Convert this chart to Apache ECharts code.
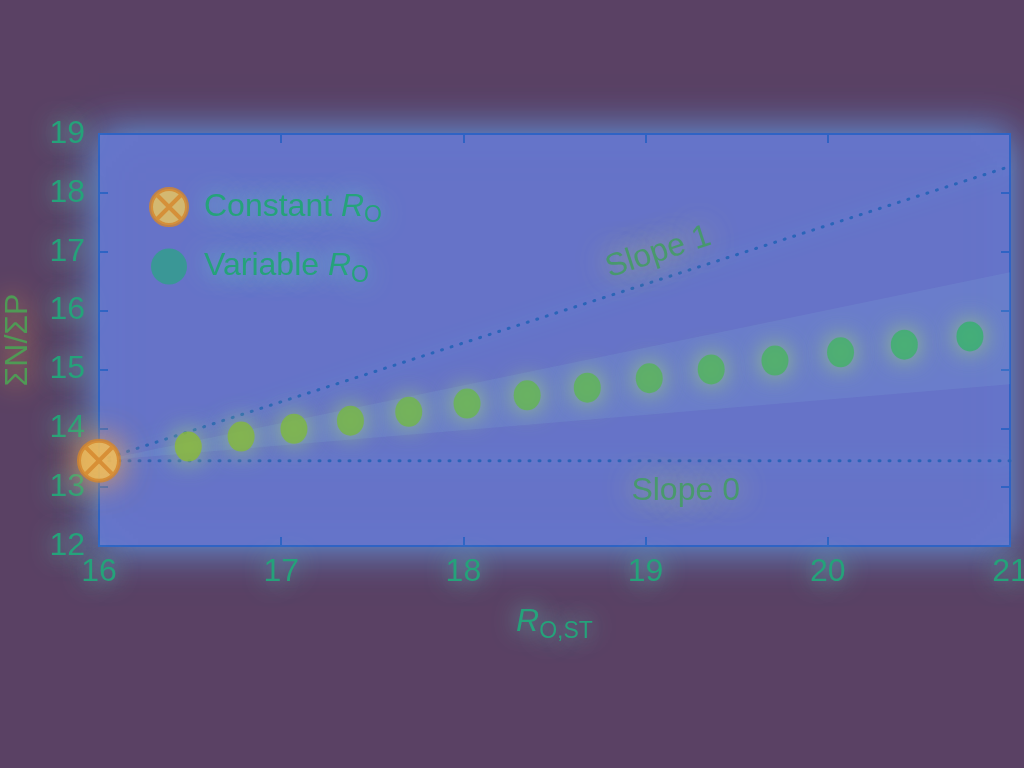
<!DOCTYPE html>
<html>
<head>
<meta charset="utf-8">
<script src="https://cdn.jsdelivr.net/npm/echarts@6/dist/echarts.min.js"></script>
<style>
html,body{margin:0;padding:0;background:#5a4164;}
#c{width:1024px;height:768px;}
</style>
</head>
<body>
<div id="c"></div>
<script>
// ---- data ----
const xTicks = [16, 17, 18, 19, 20, 21];
const yTicks = [12, 13, 14, 15, 16, 17, 18, 19];
const constantX = [16];
const constantY = [13.45];
const variableX = [16.49, 16.78, 17.07, 17.38, 17.70, 18.02, 18.35, 18.68, 19.02, 19.36, 19.71, 20.07, 20.42, 20.78];
const variableY = [13.69, 13.86, 13.99, 14.13, 14.28, 14.42, 14.56, 14.69, 14.85, 15.00, 15.15, 15.29, 15.42, 15.56];
const slope1X = [16, 21];
const slope1Y = [13.45, 18.45];
const slope0X = [16, 21];
const slope0Y = [13.45, 13.45];
const bandX = [16, 21];
const bandUpper = [13.45, 16.65];
const bandLower = [13.45, 14.75];
const annotationText = ['Slope 1', 'Slope 0'];
const annotationX = [19.07, 19.22];
const annotationY = [16.99, 12.93];
const annotationAngle = [18, 0];

// ---- styles ----
const FONT = 'Liberation Sans';
const TXT = '#25a27a';
const GLOW = 'rgba(110,225,210,0.95)';
const AXIS = '#2f63c4';

function zip(a, b) { return a.map((v, i) => [v, b[i]]); }
function mix(c1, c2, t) {
  const p = c => [1,3,5].map(i => parseInt(c.substr(i,2),16));
  const a = p(c1), b = p(c2);
  return 'rgb(' + a.map((v,i)=>Math.round(v+(b[i]-v)*t)).join(',') + ')';
}

const otimesPath = 'path://M0,-10A10,10 0 1,1 0,10A10,10 0 1,1 0,-10ZM-7.07,-7.07L7.07,7.07M7.07,-7.07L-7.07,7.07';

const textBase = {
  fontFamily: FONT, fontSize: 32, color: TXT,
  textShadowColor: GLOW, textShadowBlur: 24
};
const richSub = {
  i: { fontFamily: FONT, fontSize: 32, fontStyle: 'italic', color: TXT, textShadowColor: GLOW, textShadowBlur: 24 },
  s: { fontFamily: FONT, fontSize: 23, color: TXT, padding: [18, 0, 0, 0], textShadowColor: GLOW, textShadowBlur: 24 }
};

const chart = echarts.init(document.getElementById('c'));
chart.setOption({
  backgroundColor: '#5a4164',
  animation: false,
  grid: {
    left: 99, right: 14, top: 134, bottom: 222,
    outerBoundsMode: 'none', containLabel: false,
    show: true, backgroundColor: '#6673c8', borderColor: AXIS, borderWidth: 2,
    shadowColor: 'rgba(100,170,255,0.9)', shadowBlur: 40
  },
  legend: {
    orient: 'vertical', left: 144, top: 182,
    itemWidth: 48, itemHeight: 36, itemGap: 21,
    symbolKeepAspect: true,
    data: [
      { name: 'Constant', icon: otimesPath,
        itemStyle: { color: '#f0c95a', borderColor: '#d4862c', borderWidth: 4 } },
      { name: 'Variable', icon: 'circle',
        itemStyle: { color: '#2fa089', borderWidth: 0 } }
    ],
    formatter: n => n + ' {i|R}{s|O}',
    textStyle: Object.assign({}, textBase, { padding: [0, 0, 0, 6], rich: richSub })
  },
  xAxis: [{
    type: 'value', min: 16, max: 21, interval: 1, position: 'bottom',
    axisLine: { show: true, lineStyle: { color: AXIS, width: 2 } },
    axisTick: { show: true, inside: true, length: 9, lineStyle: { color: AXIS, width: 2 } },
    splitLine: { show: false },
    axisLabel: Object.assign({}, textBase, { margin: 10, formatter: v => xTicks.includes(v) ? String(v) : '' }),
    name: '{i|R}{s|O,ST}', nameLocation: 'middle', nameGap: 56,
    nameTextStyle: { fontFamily: FONT, fontSize: 32, color: TXT, rich: richSub }
  }, {
    type: 'value', min: 16, max: 21, interval: 1, position: 'top',
    axisLine: { show: true, lineStyle: { color: AXIS, width: 2 } },
    axisTick: { show: true, inside: true, length: 9, lineStyle: { color: AXIS, width: 2 } },
    splitLine: { show: false }, axisLabel: { show: false }
  }],
  yAxis: [{
    type: 'value', min: 12, max: 19, interval: 1, position: 'left',
    axisLine: { show: true, lineStyle: { color: AXIS, width: 2 } },
    axisTick: { show: true, inside: true, length: 9, lineStyle: { color: AXIS, width: 2 } },
    splitLine: { show: false },
    axisLabel: Object.assign({}, textBase, { margin: 14, formatter: v => yTicks.includes(v) ? String(v) : '' }),
    name: 'ΣN/ΣP', nameLocation: 'middle', nameRotate: 90, nameGap: 65,
    nameTextStyle: { fontFamily: FONT, fontSize: 32, color: '#4f9a55', textShadowColor: 'rgba(255,170,80,0.95)', textShadowBlur: 28 }
  }, {
    type: 'value', min: 12, max: 19, interval: 1, position: 'right',
    axisLine: { show: true, lineStyle: { color: AXIS, width: 2 } },
    axisTick: { show: true, inside: true, length: 9, lineStyle: { color: AXIS, width: 2 } },
    splitLine: { show: false }, axisLabel: { show: false }
  }],
  series: [
    {
      name: 'band', type: 'custom', silent: true, z: 1,
      data: [[bandX[0], bandLower[0]]],
      renderItem: function (params, api) {
        const up = bandX.map((x, i) => api.coord([x, bandUpper[i]]));
        const lo = bandX.map((x, i) => api.coord([x, bandLower[i]])).reverse();
        return { type: 'polygon', shape: { points: up.concat(lo) },
          style: { fill: 'rgba(150,235,230,0.09)' } };
      }
    },
    {
      name: 'slope1', type: 'line', data: zip(slope1X, slope1Y), symbol: 'none', z: 2,
      lineStyle: { color: '#2a64b8', width: 3, type: [1, 9], cap: 'round',
        shadowColor: 'rgba(90,200,255,0.9)', shadowBlur: 18 }
    },
    {
      name: 'slope0', type: 'line', data: zip(slope0X, slope0Y), symbol: 'none', z: 2,
      lineStyle: { color: '#2a64b8', width: 3, type: [1, 9], cap: 'round',
        shadowColor: 'rgba(90,200,255,0.9)', shadowBlur: 18 }
    },
    {
      name: 'Variable', type: 'scatter', data: zip(variableX, variableY), z: 4,
      symbol: 'circle', symbolSize: [27, 30],
      itemStyle: {
        color: p => mix('#8ab938', '#35b06e', p.dataIndex / (variableX.length - 1)),
        shadowColor: 'rgba(180,240,90,0.9)', shadowBlur: 26
      }
    },
    {
      name: 'Constant', type: 'scatter', data: zip(constantX, constantY), z: 5,
      symbol: otimesPath, symbolSize: 40, symbolKeepAspect: true,
      itemStyle: { color: '#f2c55c', borderColor: '#d4862c', borderWidth: 4,
        shadowColor: 'rgba(255,170,70,0.95)', shadowBlur: 34 }
    },
    {
      name: 'annotations', type: 'scatter', symbolSize: 0, z: 6, silent: true,
      data: annotationText.map((t, i) => ({ name: t, value: [annotationX[i], annotationY[i]],
        label: { rotate: annotationAngle[i] } })),
      label: Object.assign({ show: true, position: 'inside', formatter: p => p.name },
        textBase, { color: '#3f9f5a', textShadowColor: 'rgba(230,240,90,0.95)', textShadowBlur: 30 })
    }
  ]
});
</script>
</body>
</html>
